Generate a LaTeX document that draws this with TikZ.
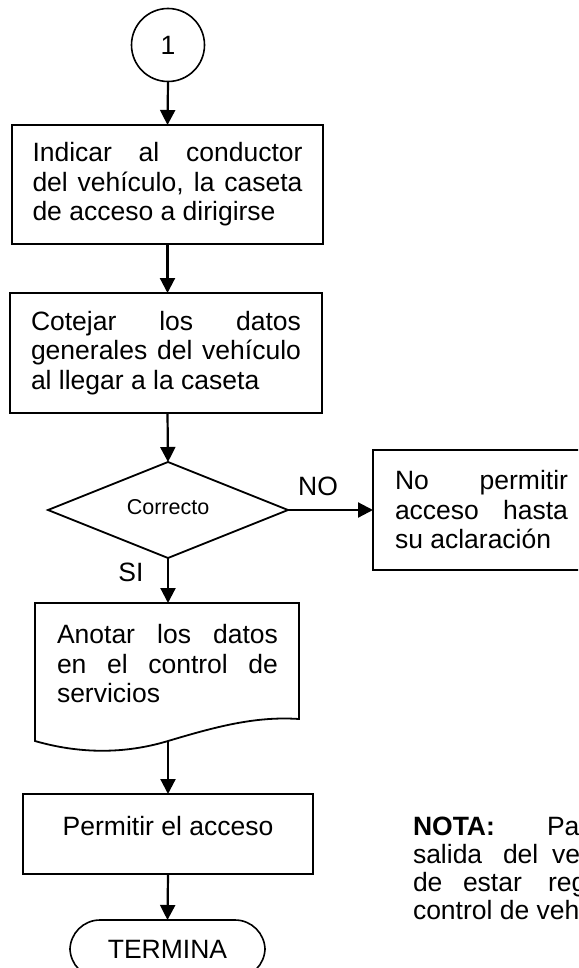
\documentclass[tikz,border=0pt]{standalone}
\usepackage{fontspec}
\setmainfont{Liberation Sans}
\usetikzlibrary{arrows.meta,shapes.geometric}
\newcommand\sline[2]{\makebox[#1][s]{#2}}
\begin{document}
\begin{tikzpicture}[x=1pt,y=-1pt,
  every node/.style={font=\fontsize{26.5}{29.5}\selectfont, inner sep=0pt, outer sep=0pt},
  boxstyle/.style={draw, line width=1.8pt, rectangle},
  conn/.style={line width=2.2pt, -{Triangle[length=15pt,width=15pt]}},
  smallfont/.style={font=\fontsize{21.5}{24}\selectfont},
]
\useasboundingbox (0,0) rectangle (578,968);
\fill[white] (0,0) rectangle (578,968);
\clip (0,0) rectangle (578,968);

% start connector
\node[circle, draw, line width=1.6pt, minimum size=73] (c1) at (168,45) {1};

% box 1
\node[boxstyle, minimum width=311, minimum height=119, align=left] (b1) at (167.5,184.5)
  {\sline{270pt}{Indicar al conductor}\\ \sline{270pt}{del vehículo, la caseta}\\ de acceso a dirigirse};

% box 2
\node[boxstyle, minimum width=312, minimum height=120, align=left] (b2) at (166,353)
  {\sline{270pt}{Cotejar los datos}\\ \sline{270pt}{generales del vehículo}\\ al llegar a la caseta};

% decision
\node[diamond, draw, line width=1.8pt, minimum width=240, minimum height=96, shape aspect=2.5, smallfont] (dec) at (168,510) {\raisebox{6pt}{Correcto}};

% NO box
\node[boxstyle, minimum width=217, minimum height=120, align=left] (nob) at (481.5,510)
  {\sline{173pt}{No permitir}\\ \sline{173pt}{acceso hasta}\\ su aclaración};

\node (nolab) at (318,486) {NO};
\node (silab) at (131,572) {SI};

% document shape
\node[minimum width=264, minimum height=138] (doc) at (167,672) {};
\node[align=left] (doctxt) at (167.5,664)
  {\sline{221pt}{Anotar los datos}\\ \sline{221pt}{en el control de}\\ servicios};
\draw[line width=1.8pt, line join=miter] (doc.north west) -- (doc.north east) -- (299,719)
  .. controls (255,716) and (215,727) .. (168,741)
  .. controls (125,754) and (80,754) .. (35,741) -- cycle;
\coordinate (docb) at (168,741);

% permitir
\node[boxstyle, minimum width=290, minimum height=80] (perm) at (168,834) {};
\node (permtxt) at (168,826) {Permitir el acceso};

% terminal
\node[draw, line width=1.6pt, rounded corners=30, minimum width=195, minimum height=58] (term) at (167.5,949) {TERMINA};

% connectors
\draw[conn] (c1.south) -- (b1.north);
\draw[conn] (b1.south) -- (b1.south |- b2.north);
\draw[conn] (b1.south |- b2.south) -- (dec.north);
\draw[conn] (dec.east) -- (nob.west);
\draw[conn] (dec.south) -- (dec.south |- doc.north);
\draw[conn] (docb) -- (perm.north);
\draw[conn] (perm.south) -- (term.north);

% note
\node[anchor=base west] (n1a) at (413,835) {\bfseries NOTA:};
\node[anchor=base west] (n1b) at (547,835) {Para};
\node[anchor=base west] (n2a) at (413,863) {salida};
\node[anchor=base west] (n2b) at (503,863) {del};
\node[anchor=base west] (n2c) at (552,863) {vehículo};
\node[anchor=base west] (n3a) at (413,891) {de};
\node[anchor=base west] (n3b) at (463,891) {estar};
\node[anchor=base west] (n3c) at (548,891) {registrado};
\node[anchor=base west] (n4) at (413,919) {control de vehículos};
\end{tikzpicture}
\end{document}
